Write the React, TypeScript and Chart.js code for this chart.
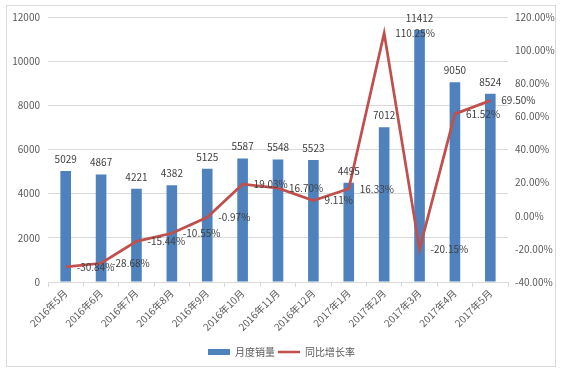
import React, { useEffect, useRef } from "react";
import { Chart, registerables } from "chart.js";

Chart.register(...registerables);

const categories = [
  "2016年5月", "2016年6月", "2016年7月", "2016年8月", "2016年9月", "2016年10月",
  "2016年11月", "2016年12月", "2017年1月", "2017年2月", "2017年3月", "2017年4月", "2017年5月",
];
const monthlySales = [5029, 4867, 4221, 4382, 5125, 5587, 5548, 5523, 4495, 7012, 11412, 9050, 8524];
const yoyGrowth = [-30.84, -28.68, -15.44, -10.55, -0.97, 19.03, 16.7, 9.11, 16.33, 110.25, -20.15, 61.52, 69.5];
const leftTicks = [0, 2000, 4000, 6000, 8000, 10000, 12000];
const rightTicks = [-40, -20, 0, 20, 40, 60, 80, 100, 120];

const FONT = "'Noto Sans CJK SC', 'Noto Sans', sans-serif";

const frame = {
  id: "frame",
  beforeDraw(chart: any) {
    const ctx = chart.ctx;
    ctx.save();
    ctx.fillStyle = "#ffffff";
    ctx.fillRect(0, 0, chart.width, chart.height);
    ctx.strokeStyle = "#d9d9d9";
    ctx.lineWidth = 1;
    ctx.strokeRect(6.5, 5.5, 549, 361);
    ctx.restore();
  },
};

const labels = {
  id: "valueLabels",
  afterDatasetsDraw(chart: any) {
    const ctx = chart.ctx;
    ctx.save();
    ctx.font = `10px ${FONT}`;
    ctx.fillStyle = "#404040";
    const barMeta = chart.getDatasetMeta(0);
    ctx.textAlign = "center";
    ctx.textBaseline = "middle";
    barMeta.data.forEach((el: any, i: number) => {
      ctx.fillText(String(monthlySales[i]), el.x, el.y - 12);
    });
    const lineMeta = chart.getDatasetMeta(1);
    ctx.textAlign = "left";
    lineMeta.data.forEach((el: any, i: number) => {
      ctx.fillText(yoyGrowth[i].toFixed(2) + "%", el.x + 11, el.y);
    });
    ctx.restore();
  },
};

export default function App() {
  const ref = useRef<HTMLCanvasElement | null>(null);
  useEffect(() => {
    if (!ref.current) return;
    const chart = new Chart(ref.current, {
      type: "bar",
      data: {
        labels: categories,
        datasets: [
          {
            type: "bar",
            label: "月度销量",
            data: monthlySales,
            backgroundColor: "#4F81BD",
            borderWidth: 0,
            categoryPercentage: 1,
            barPercentage: 0.3,
            yAxisID: "y",
            order: 1,
          } as any,
          {
            type: "line",
            label: "同比增长率",
            data: yoyGrowth,
            borderColor: "#C0504D",
            backgroundColor: "#C0504D",
            borderWidth: 2.75,
            pointRadius: 0,
            tension: 0,
            yAxisID: "y1",
            order: 0,
          } as any,
        ],
      },
      options: {
        responsive: false,
        animation: false,
        layout: { padding: { top: 17, bottom: 5, left: 0, right: 0 } },
        plugins: {
          tooltip: { enabled: false },
          legend: {
            position: "bottom",
            labels: {
              font: { family: FONT, size: 10 },
              color: "#595959",
              usePointStyle: true,
              boxHeight: 6,
              boxWidth: 22,
              pointStyleWidth: 22,
              padding: 3,
              sort: (a: any, b: any) => a.datasetIndex - b.datasetIndex,
              generateLabels: (c: any) =>
                c.data.datasets.map((ds: any, i: number) => ({
                  text: ds.label,
                  datasetIndex: i,
                  fillStyle: i === 0 ? "#4F81BD" : "#C0504D",
                  strokeStyle: i === 0 ? "#4F81BD" : "#C0504D",
                  lineWidth: i === 0 ? 0 : 2.5,
                  pointStyle: i === 0 ? "rect" : "line",
                  fontColor: "#595959",
                  hidden: false,
                })),
            },
          },
        },
        scales: {
          x: {
            offset: true,
            grid: {
              offset: true,
              drawOnChartArea: false,
              drawTicks: true,
              tickLength: 5,
              color: "#d9d9d9",
            },
            border: { display: true, color: "#d9d9d9" },
            ticks: {
              font: { family: FONT, size: 10 },
              color: "#595959",
              maxRotation: 45,
              minRotation: 45,
              autoSkip: false,
              padding: 0,
            },
            afterFit: (s: any) => {
              s.height = 62;
            },
          },
          y: {
            position: "left",
            min: 0,
            max: 12000,
            afterBuildTicks: (s: any) => {
              s.ticks = leftTicks.map((v) => ({ value: v }));
            },
            grid: { color: "#d9d9d9", drawTicks: false },
            border: { display: false },
            ticks: {
              font: { family: FONT, size: 10 },
              color: "#595959",
              padding: 8,
              callback: (v: any) => String(v),
            },
            afterFit: (s: any) => {
              s.width = 48;
            },
          },
          y1: {
            position: "right",
            min: -40,
            max: 120,
            afterBuildTicks: (s: any) => {
              s.ticks = rightTicks.map((v) => ({ value: v }));
            },
            grid: { drawOnChartArea: false, drawTicks: false },
            border: { display: false },
            ticks: {
              font: { family: FONT, size: 10 },
              color: "#595959",
              padding: 7,
              callback: (v: any) => Number(v).toFixed(2) + "%",
            },
            afterFit: (s: any) => {
              s.width = 55;
            },
          },
        },
      },
      plugins: [frame, labels],
    });
    return () => chart.destroy();
  }, []);
  return (
    <div style={{ position: "absolute", left: 0, top: 0, width: 563, height: 372 }}>
      <canvas ref={ref} width={563} height={372} />
    </div>
  );
}
